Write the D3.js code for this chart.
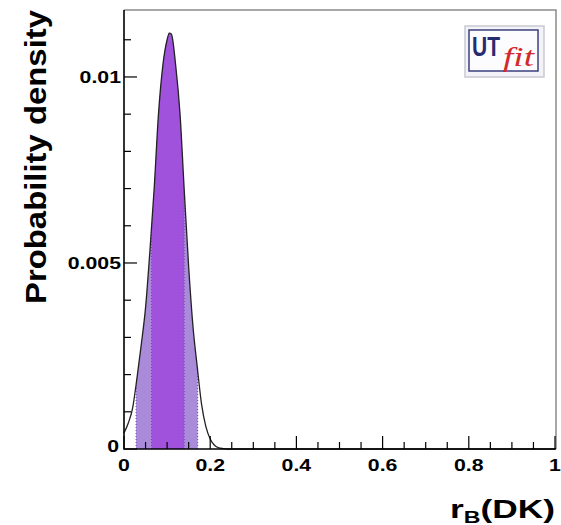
<!DOCTYPE html>
<html>
<head>
<meta charset="utf-8">
<script src="https://cdn.jsdelivr.net/npm/d3@7"></script>
<style>
  body { margin: 0; background: #fff; }
</style>
</head>
<body>
<div id="chart"></div>
<script>
// density of r_B(DK)
var rbX = [0, 0.01, 0.02, 0.03, 0.04, 0.05, 0.06, 0.07, 0.08, 0.09, 0.10, 0.105, 0.11, 0.12, 0.13,
           0.14, 0.15, 0.16, 0.17, 0.18, 0.19, 0.20, 0.21, 0.22, 0.23, 0.24, 0.30, 1.0];
var rbDensity = [0.00043, 0.0007, 0.0011, 0.0019, 0.0028, 0.0038, 0.0053, 0.0070, 0.0090, 0.0103, 0.0110,
                 0.01118, 0.01115, 0.0103, 0.0090, 0.0069, 0.0049, 0.0033, 0.0022, 0.0012, 0.0006,
                 0.00027, 0.0001, 0.00003, 0.00001, 0, 0, 0];
// probability intervals: 68% (dark) and 95% (light)
var interval68 = [0.064, 0.1395];
var interval95 = [0.028, 0.171];

var xTickLabels = [0, 0.2, 0.4, 0.6, 0.8, 1];
var yTickLabels = [0, 0.005, 0.01];

var W = 561, H = 525;
var pLeft = 124, pRight = 555, pTop = 10, pBottom = 449;
var FONT = "'Liberation Sans', Arial, sans-serif";
var WIDEN = 1.33;   // the labels in the picture are drawn wide

var svg = d3.select("#chart").append("svg")
    .attr("width", W)
    .attr("height", H)
    .style("font-family", FONT)
    .style("font-weight", "bold");

var x = d3.scaleLinear().domain([0, 1]).range([pLeft, pRight]);
var y = d3.scaleLinear().domain([0, 0.0118]).range([pBottom, pTop]);

var pts = rbX.map(function (v, i) { return [v, rbDensity[i]]; });

var area = d3.area()
    .x(function (d) { return x(d[0]); })
    .y0(pBottom)
    .y1(function (d) { return y(d[1]); })
    .curve(d3.curveMonotoneX);

var line = d3.line()
    .x(function (d) { return x(d[0]); })
    .y(function (d) { return y(d[1]); })
    .curve(d3.curveMonotoneX);

var defs = svg.append("defs");
defs.append("clipPath").attr("id", "under")
    .append("path").attr("d", area(pts));

function band(id, iv, color) {
    defs.append("clipPath").attr("id", id)
        .append("rect")
        .attr("x", x(iv[0])).attr("y", pTop)
        .attr("width", x(iv[1]) - x(iv[0]))
        .attr("height", pBottom - pTop);
    svg.append("g").attr("clip-path", "url(#" + id + ")")
        .append("path")
        .attr("d", area(pts))
        .attr("fill", color);
}
band("c95", interval95, "#a98bd9");
band("c68", interval68, "#a052dc");

// dotted boundaries of the intervals, cut at the curve
svg.append("g").attr("clip-path", "url(#under)")
    .selectAll("line")
    .data(interval95.concat(interval68))
    .enter().append("line")
    .attr("x1", function (d) { return x(d); })
    .attr("x2", function (d) { return x(d); })
    .attr("y1", pBottom).attr("y2", pTop)
    .attr("stroke", "#7b3cb8")
    .attr("stroke-width", 1)
    .attr("stroke-dasharray", "1,2");

svg.append("path")
    .attr("d", line(pts))
    .attr("fill", "none")
    .attr("stroke", "#222")
    .attr("stroke-width", 1.3);

// frame top and right
svg.append("path")
    .attr("d", "M" + pLeft + "," + pTop + "H" + (pRight + 1) + "V" + pBottom)
    .attr("fill", "none")
    .attr("stroke", "#8a8a8a")
    .attr("stroke-width", 1.5);

// ticks inside the frame
var xMinor = d3.range(0, 1.0001, 0.05);
svg.append("g").selectAll("line")
    .data(xMinor)
    .enter().append("line")
    .attr("x1", function (d) { return x(d); })
    .attr("x2", function (d) { return x(d); })
    .attr("y1", pBottom)
    .attr("y2", function (d, i) { return pBottom - (i % 4 == 0 ? 13 : 7); })
    .attr("stroke", "#000").attr("stroke-width", 1.2);

var yMinor = d3.range(0, 0.0116, 0.001);
svg.append("g").selectAll("line")
    .data(yMinor)
    .enter().append("line")
    .attr("y1", function (d) { return y(d); })
    .attr("y2", function (d) { return y(d); })
    .attr("x1", pLeft)
    .attr("x2", function (d, i) { return pLeft + (i % 5 == 0 ? 13 : 7); })
    .attr("stroke", "#000").attr("stroke-width", 1.2);

// axis lines
svg.append("path")
    .attr("d", "M" + pLeft + "," + pTop + "V" + pBottom + "H" + (pRight + 1))
    .attr("fill", "none")
    .attr("stroke", "#000")
    .attr("stroke-width", 1.6);

svg.append("g").selectAll("text")
    .data(xTickLabels)
    .enter().append("text")
    .attr("transform", function (d) { return "translate(" + x(d) + ",471) scale(" + WIDEN + ",1)"; })
    .attr("text-anchor", "middle")
    .attr("font-size", 16)
    .text(function (d) { return d; });

svg.append("g").selectAll("text")
    .data(yTickLabels)
    .enter().append("text")
    .attr("transform", function (d) {
        var px = d == 0 ? 119 : 121;
        var py = d == 0 ? y(d) + 3 : y(d) + 6;
        return "translate(" + px + "," + py + ") scale(" + WIDEN + ",1)";
    })
    .attr("text-anchor", "end")
    .attr("font-size", 16)
    .text(function (d) { return d; });

svg.append("text")
    .attr("transform", "translate(46,157) rotate(-90)")
    .attr("text-anchor", "middle")
    .attr("font-size", 30)
    .attr("textLength", 294).attr("lengthAdjust", "spacingAndGlyphs")
    .text("Probability density");

var xl = svg.append("text")
    .attr("transform", "translate(555,518) scale(1.36,1)")
    .attr("text-anchor", "end")
    .attr("font-size", 26);
xl.append("tspan").text("r");
xl.append("tspan").attr("font-size", 17).attr("dy", 5).text("B");
xl.append("tspan").attr("dy", -5).text("(DK)");

// UTfit logo
var logo = svg.append("g");
logo.append("rect")
    .attr("x", 465).attr("y", 26).attr("width", 79).attr("height", 51)
    .attr("fill", "#f3f3f7").attr("stroke", "#c9c9d2").attr("stroke-width", 1.5);
logo.append("rect")
    .attr("x", 469).attr("y", 30).attr("width", 69).attr("height", 41)
    .attr("fill", "#fcfcff").attr("stroke", "#3b4080").attr("stroke-width", 1.5);
logo.append("text")
    .attr("x", 472).attr("y", 56)
    .attr("font-size", 28)
    .attr("textLength", 28).attr("lengthAdjust", "spacingAndGlyphs")
    .attr("fill", "#262b70")
    .text("UT");
logo.append("text")
    .attr("x", 503).attr("y", 66)
    .style("font-family", "'Liberation Serif', serif")
    .style("font-style", "italic")
    .style("font-weight", "normal")
    .attr("font-size", 28)
    .attr("textLength", 31).attr("lengthAdjust", "spacingAndGlyphs")
    .attr("fill", "#d22a2a")
    .text("fit");
</script>
</body>
</html>
